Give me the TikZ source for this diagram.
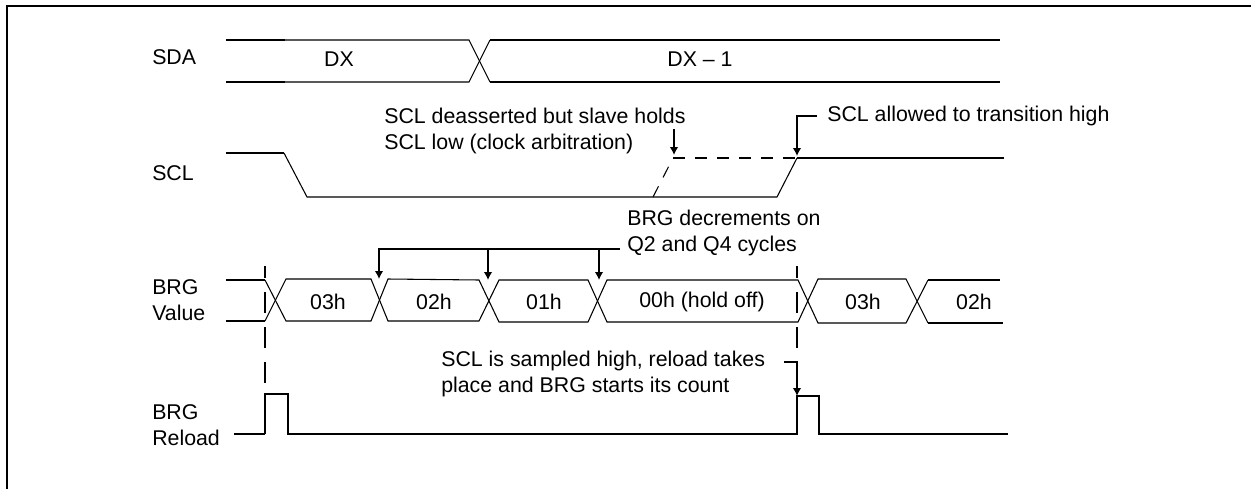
\documentclass[tikz,border=0pt]{standalone}
\usepackage{fontspec}
\setmainfont{Liberation Sans}
\usetikzlibrary{arrows.meta}
\tikzset{
  thick wave/.style={line width=1.5pt,line join=miter},
  thin wave/.style={line width=0.8pt,line join=miter},
  dash rule/.style={line width=1.2pt,dash pattern=on 15.75pt off 10.5pt,dash phase=6.75pt},
  pointer/.style={line width=1.2pt,-{Latex[length=6pt,width=6.5pt]}},
  txt/.style={inner sep=0pt,font=\fontsize{16pt}{19.7pt}\selectfont,align=left},
  vlabel/.style={inner sep=0pt,font=\fontsize{16pt}{19.7pt}\selectfont},
}
\begin{document}
\begin{tikzpicture}[x=0.75pt,y=-0.75pt]
\useasboundingbox (0,0) rectangle (1251,489);
% frame
\draw[line width=1.5pt] (6.5,489) -- (6.5,6) -- (1251,6);
% SDA
\draw[thick wave] (226,40) -- (285,40) (226,82) -- (285,82) (490,40) -- (1000,40) (490,82) -- (1000,82);
\draw[thin wave] (285,40) -- (469,40) -- (490,82);
\draw[thin wave] (285,82) -- (469,82) -- (490,40);
\node[vlabel,anchor=west] (lsda) at (152,57) {SDA};
\node[vlabel] (dx) at (339,59) {DX};
\node[vlabel] (dx1) at (700,59) {DX – 1};
% SCL
\draw[thick wave] (226,153) -- (284,153) (797,158) -- (1004,158);
\draw[thin wave] (284,153) -- (307,197) -- (777,197) -- (797,158);
\draw[thin wave,dash pattern=on 9pt off 7.5pt] (653,197) -- (673,158);
\draw[thick wave,dash pattern=on 9pt off 7.5pt] (673,158) -- (797,158);
\node[vlabel,anchor=west] (lscl) at (152,173) {SCL};
% BRG value
\draw[thick wave] (226,280) -- (265,280) (226,321) -- (265,321) (928,280) -- (1000,280) (928,323) -- (1003,323);
\draw[thin wave] (265,280) -- (286,321) -- (371,321) -- (388,279) -- (479,280) -- (499,322) -- (588,322) -- (607,280) -- (798,280) -- (818,323) -- (906,323) -- (928,280);
\draw[thin wave] (265,321) -- (286,279) -- (371,279) -- (388,321) -- (479,321) -- (499,280) -- (588,280) -- (607,322) -- (798,322) -- (818,279) -- (906,279) -- (928,323);
\node[txt,anchor=west] (lbrg) at (152,300) {BRG\\Value};
\node[vlabel] (h3a) at (328,302) {03h};
\node[vlabel] (h2a) at (434,302) {02h};
\node[vlabel] (h1a) at (544,302) {01h};
\node[vlabel] (h0) at (702,302) {00h (hold off)};
\node[vlabel] (h3b) at (863,302) {03h};
\node[vlabel] (h2b) at (974,302) {02h};
% dashed verticals
\draw[dash rule] (265,266) -- (265,383);
\draw[dash rule] (797,266) -- (797,348);
% reload
\draw[thin wave] (234,434) -- (265,434);
\draw[thick wave] (265,434) -- (265,394) -- (288,394) -- (288,434) -- (797,434) -- (797,396) -- (819,396) -- (819,434) -- (1008,434);
\node[txt,anchor=west] (lrel) at (152,425) {BRG\\Reload};
% annotations
\node[txt,anchor=north west] (n1) at (384,108) {SCL deasserted but slave holds\\SCL low (clock arbitration)};
\node[txt,anchor=west] (n2) at (827,116) {SCL allowed to transition high};
\node[txt,anchor=north west] (n3) at (627,209.5) {BRG decrements on\\Q2 and Q4 cycles};
\node[txt,anchor=north west] (n4) at (441,351) {SCL is sampled high, reload takes\\place and BRG starts its count};
\coordinate (a1s) at (674,129); \coordinate (a1e) at (674,155);
\coordinate (a2s) at (817,116); \coordinate (a2m) at (797,116); \coordinate (a2e) at (797,156);
\coordinate (b0) at (620,249); \coordinate (b1) at (379,249); \coordinate (b1e) at (379,279);
\coordinate (b2) at (488,249); \coordinate (b2e) at (488,280); \coordinate (b3) at (599,249); \coordinate (b3e) at (599,280);
\coordinate (c1) at (784,362); \coordinate (c2) at (797,362); \coordinate (c3) at (797,396);
\draw[pointer] (a1s) -- (a1e);
\draw[pointer] (a2s) -- (a2m) -- (a2e);
\draw[pointer] (b0) -- (b1) -- (b1e);
\draw[pointer] (b2) -- (b2e);
\draw[pointer] (b3) -- (b3e);
\draw[pointer] (c1) -- (c2) -- (c3);
\end{tikzpicture}
\end{document}
